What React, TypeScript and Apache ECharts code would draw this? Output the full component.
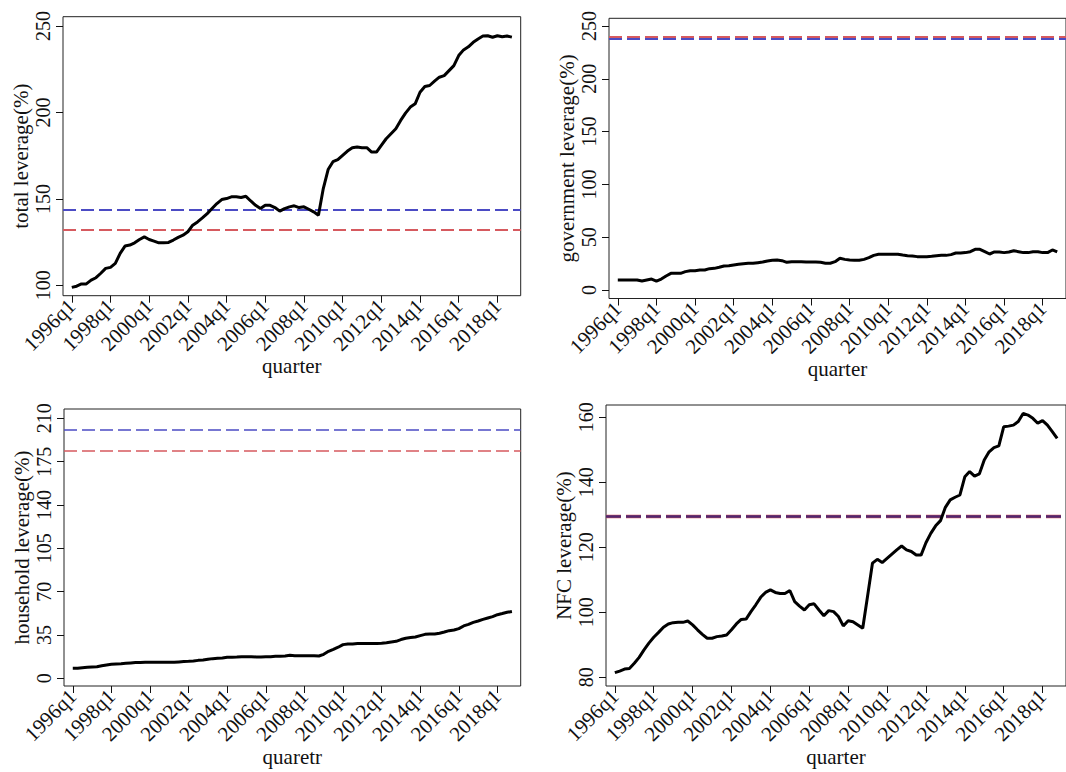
import React, { useEffect, useRef } from "react";
import * as echarts from "echarts";

const FONT = "'Liberation Serif', 'Times New Roman', serif";

// x tick positions (quarter index from 1996q1) and their labels
const tickQuarterIndex = [0, 8, 16, 24, 32, 40, 48, 56, 64, 72, 80, 88];
const tickLabels = [
  "1996q1", "1998q1", "2000q1", "2002q1", "2004q1", "2006q1",
  "2008q1", "2010q1", "2012q1", "2014q1", "2016q1", "2018q1",
];

// quarterly series, 1996q1 .. 2018q4
const totalLeverage = [
  98.8, 99.5, 100.8, 100.8, 103, 104.4, 107, 109.8, 110.4, 112.7,
  118.5, 122.7, 123.3, 124.6, 126.5, 128, 126.5, 125.6, 124.6, 124.6,
  124.8, 126.2, 127.7, 129, 131, 134.8, 136.7, 139, 141.5, 144.4,
  147.3, 149.6, 150.2, 151.2, 151.2, 150.8, 151.5, 148.8, 146.3, 144.4,
  146.3, 146.3, 145, 142.9, 144.4, 145.4, 146, 145, 145.4, 144,
  142.5, 140.6, 156, 167, 171.5, 172.7, 175.2, 177.7, 179.6, 180,
  179.6, 179.6, 177.1, 177.1, 181, 184.8, 187.7, 190.6, 195.4, 199.6,
  203.1, 205, 211.7, 215, 215.6, 218.1, 220.4, 221.3, 224.2, 227.1,
  232.9, 236.2, 238, 240.6, 242.5, 244.2, 244.4, 243.5, 244.4, 243.8,
  244.2, 243.6,
];

const governmentLeverage = [
  9.5, 9.5, 9.5, 9.5, 9.5, 8.5, 9.5, 10.4, 8.5, 10.4,
  13.3, 15.8, 15.8, 15.8, 17.4, 18.3, 18.3, 18.9, 18.9, 20.2,
  20.5, 21.5, 22.7, 23, 23.7, 24.3, 24.9, 25.3, 25.3, 25.9,
  26.5, 27.5, 28.1, 28.4, 27.8, 26.2, 26.8, 26.8, 26.8, 26.5,
  26.5, 26.5, 26.2, 25.3, 25.3, 26.8, 30, 29, 28.4, 28.1,
  28.1, 29, 30.6, 32.8, 33.8, 33.8, 33.8, 33.8, 33.8, 33.1,
  32.5, 32.2, 31.6, 31.6, 31.6, 31.9, 32.5, 32.8, 32.8, 33.5,
  35, 35, 35.4, 36.3, 38.5, 38.5, 36.3, 34.1, 36, 36,
  35.4, 36, 37.2, 36.3, 35.4, 35.4, 36.3, 36.3, 35.4, 35.4,
  37.9, 36,
];

const householdLeverage = [
  8.1, 8.1, 8.6, 8.9, 9.2, 9.4, 10.2, 10.8, 11.3, 11.6,
  11.8, 12.1, 12.4, 12.7, 12.7, 12.9, 12.9, 12.9, 12.9, 12.9,
  12.9, 12.9, 13.2, 13.5, 13.7, 14, 14.5, 14.8, 15.4, 15.9,
  16.2, 16.4, 17, 17, 17.2, 17.5, 17.5, 17.5, 17.2, 17.2,
  17.5, 17.5, 17.8, 17.8, 18, 18.6, 18.3, 18.3, 18.3, 18.3,
  18.3, 18, 19.4, 21.8, 23.4, 25.1, 27.2, 27.8, 27.8, 28.1,
  28.1, 28.1, 28.1, 28.1, 28.3, 28.8, 29.4, 29.9, 31.3, 32.3,
  32.9, 33.4, 34.5, 35.5, 35.8, 35.8, 36.4, 37.4, 38.5, 39,
  40.1, 42.3, 43.6, 45.2, 46.3, 47.6, 48.7, 49.8, 51.4, 52.3,
  53.3, 54.0,
];

const nfcLeverage = [
  81.4, 81.9, 82.5, 82.7, 84.3, 86.1, 88.4, 90.5, 92.3, 93.8,
  95.4, 96.4, 96.8, 96.9, 96.9, 97.3, 96.1, 94.6, 93.2, 92,
  92, 92.5, 92.7, 93, 94.6, 96.4, 97.8, 97.9, 100.2, 102.3,
  104.6, 106.1, 106.9, 106.1, 105.8, 105.8, 106.7, 103.3, 101.9, 100.7,
  102.3, 102.6, 100.7, 98.9, 100.5, 100.2, 98.7, 95.8, 97.4, 97.1,
  96.1, 95.1, 105, 115.1, 116.3, 115.3, 116.6, 117.9, 119.2, 120.4,
  119.2, 118.7, 117.6, 117.6, 121.4, 124.3, 126.6, 128.2, 132.3, 134.6,
  135.4, 136.1, 141.7, 143.3, 141.9, 142.6, 146.9, 149.4, 150.7, 151.2,
  157.1, 157.3, 157.6, 158.7, 161.2, 160.7, 159.7, 158.2, 159, 157.6,
  155.6, 153.5,
];

// reference (threshold) lines per panel: total, government, household, NFC
const blueRef = [143.5, 237.8, 200.6, 129.5];
const redRef = [132.0, 239.5, 183.7, 129.55];

// y tick values per panel
const totalTicks = [100, 150, 200, 250];
const govTicks = [0, 50, 100, 150, 200, 250];
const hhTicks = [0, 35, 70, 105, 140, 175, 210];
const nfcTicks = [80, 100, 120, 140, 160];

const yNames = ["total leverage(%)", "government leverage(%)", "household leverage(%)", "NFC leverage(%)"];
const xNames = ["quarter", "quarter", "quaretr", "quarter"];

const BLUE = "#4b4bc4";
const RED = "#d65a5f";

export default function App() {
  const ref = useRef<HTMLDivElement>(null);

  useEffect(() => {
    if (!ref.current) return;
    const chart = echarts.init(ref.current, undefined, { renderer: "svg" });

    const grids = [
      { left: 63, top: 16.7, width: 457.7, height: 279 },
      { left: 609, top: 18.3, width: 462.4, height: 280.2 },
      { left: 64, top: 409, width: 456.7, height: 277 },
      { left: 606, top: 405, width: 464.3, height: 281 },
    ].map((g) => ({ ...g, show: true, borderColor: "#222", borderWidth: 1, backgroundColor: "transparent" }));

    const yRanges = [
      [94.0, 255.4],
      [-8.05, 257.3],
      [-6.2, 217.5],
      [77.3, 163.8],
    ];
    const yTicks = [totalTicks, govTicks, hhTicks, nfcTicks];
    const series = [totalLeverage, governmentLeverage, householdLeverage, nfcLeverage];

    const xAxes = [0, 1, 2, 3].map((i) => ({
      type: "value",
      gridIndex: i,
      min: -1.82,
      max: 92.82,
      name: xNames[i],
      nameLocation: "middle",
      nameGap: 60,
      nameMoveOverlap: false,
      nameTextStyle: { fontFamily: FONT, fontSize: 21, color: "#111" },
      axisLine: { show: false, onZero: false },
      axisTick: { show: true, customValues: tickQuarterIndex, length: 7, lineStyle: { color: "#111", width: 1 } },
      axisLabel: {
        customValues: tickQuarterIndex,
        rotate: 45,
        margin: 7,
        fontFamily: FONT,
        fontSize: 21,
        color: "#111",
        formatter: (v: number) => tickLabels[Math.round(v / 8)] ?? "",
      },
      splitLine: { show: false },
    }));

    const yAxes = [0, 1, 2, 3].map((i) => ({
      type: "value",
      gridIndex: i,
      min: yRanges[i][0],
      max: yRanges[i][1],
      name: yNames[i],
      nameLocation: "middle",
      nameRotate: 90,
      nameGap: 32,
      nameMoveOverlap: false,
      nameTextStyle: { fontFamily: FONT, fontSize: 21, color: "#111" },
      axisLine: { show: false, onZero: false },
      axisTick: { show: true, customValues: yTicks[i], length: 7, lineStyle: { color: "#111", width: 1 } },
      axisLabel: {
        customValues: yTicks[i],
        rotate: 90,
        margin: 10,
        fontFamily: FONT,
        fontSize: 20,
        color: "#111",
      },
      splitLine: { show: false },
    }));

    const dashW = [2, 2.2, 1.6, 3.4];
    const dash = [[13, 5], [13, 5], [13, 5], [15, 5]];

    const seriesOpts = series.map((vals, i) => ({
      type: "line",
      xAxisIndex: i,
      yAxisIndex: i,
      data: vals.map((v, q) => [q, v]),
      showSymbol: false,
      symbol: "none",
      lineStyle: { color: "#000", width: 3 },
      z: 3,
      markLine: {
        silent: true,
        symbol: ["none", "none"],
        label: { show: false },
        z: 2,
        data: [
          { yAxis: redRef[i], lineStyle: { color: RED, width: dashW[i], type: dash[i] } },
          {
            yAxis: blueRef[i],
            lineStyle: {
              color: i === 3 ? "#3a1f72" : BLUE,
              width: i === 3 ? 2.6 : dashW[i],
              type: dash[i],
              opacity: i === 3 ? 0.85 : 1,
            },
          },
        ],
      },
    }));

    chart.setOption({
      animation: false,
      backgroundColor: "#fff",
      grid: grids,
      xAxis: xAxes,
      yAxis: yAxes,
      series: seriesOpts,
    });

    return () => chart.dispose();
  }, []);

  return (
    <div
      ref={ref}
      style={{ position: "absolute", left: 0, top: 0, width: 1066, height: 772 }}
    />
  );
}
